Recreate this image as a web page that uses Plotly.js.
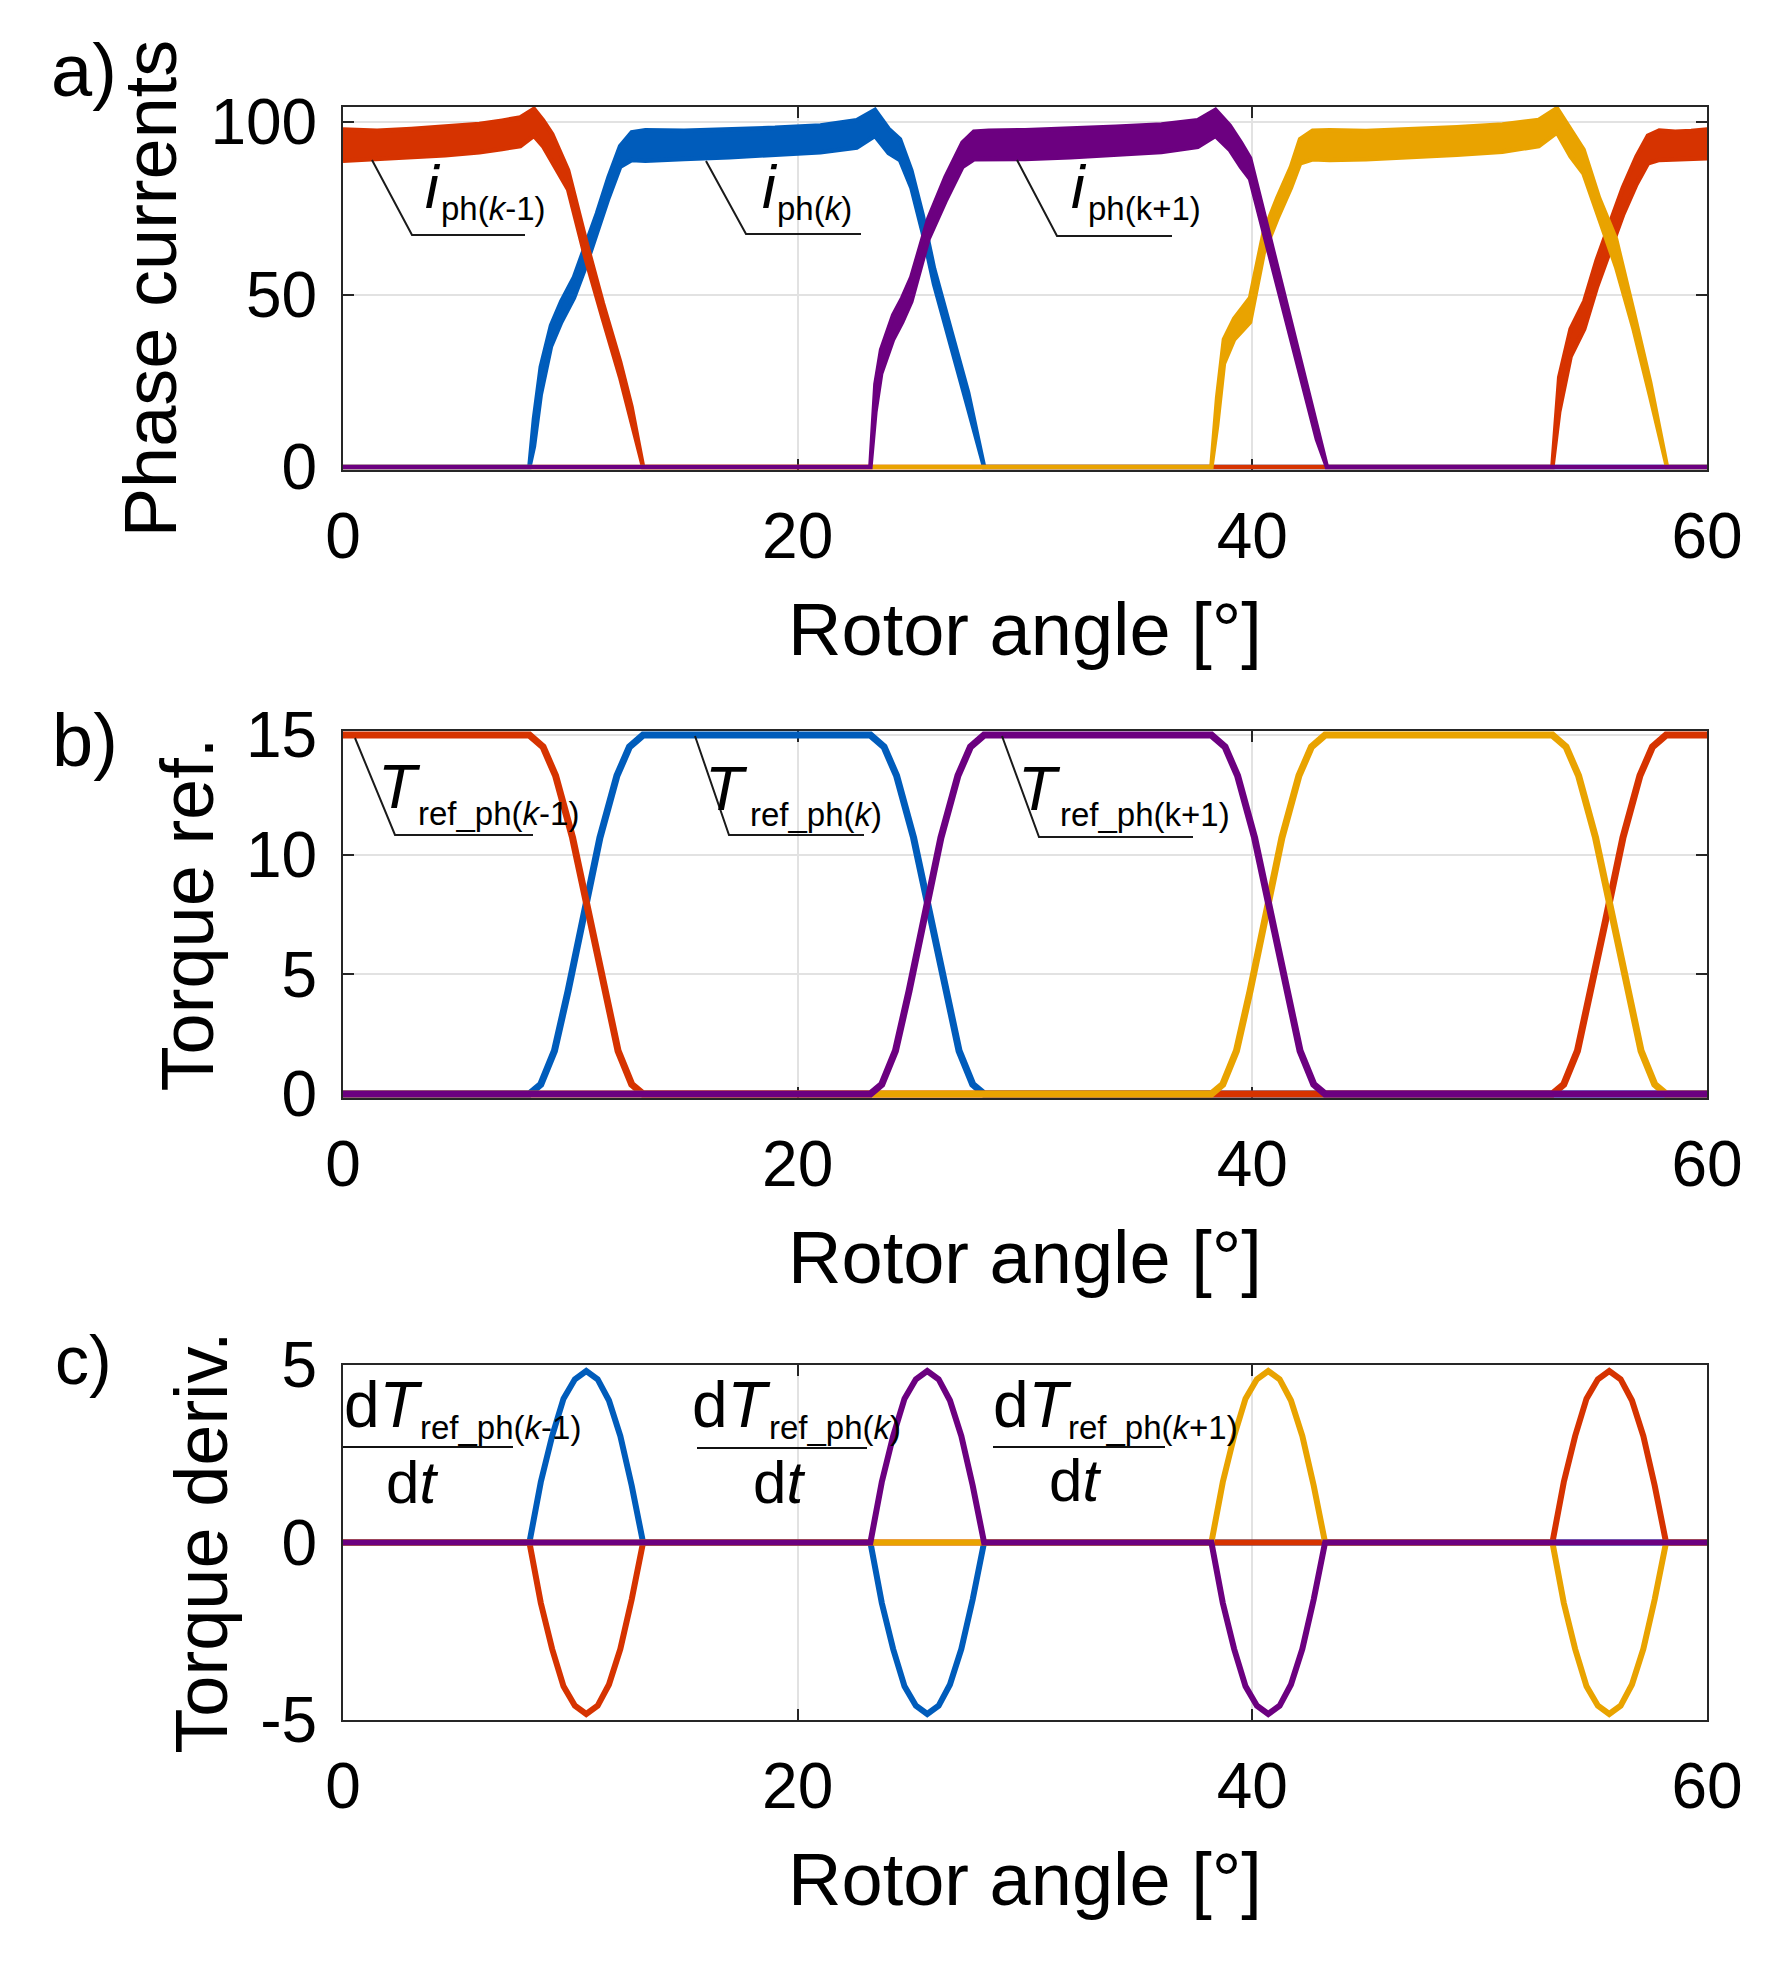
<!DOCTYPE html>
<html>
<head>
<meta charset="utf-8">
<script src="https://cdn.plot.ly/plotly-3.0.1.min.js"></script>
<style>html,body{margin:0;padding:0;background:#fff;}#plot{width:1791px;height:1963px;}</style>
</head>
<body>
<div id="plot"></div>
<script>
// ---------------- DATA ----------------
// Panel a) phase currents: upper / lower edges of the noisy current band
const aAngRed    = [0, 1.5, 3, 4.5, 6, 7, 7.8, 8.4, 8.8, 9.2, 9.9, 10.67, 11.43, 12.19, 12.69, 13.2, 53.2, 53.5, 54.0, 54.6, 55.15, 55.75, 56.3, 56.9, 57.4, 57.9, 58.6, 59.3, 60];
const aHiRed     = [97.8, 97.5, 98.0, 98.6, 99.4, 100.4, 101.3, 103.8, 100.5, 96.5, 86, 66, 47.5, 30.5, 17.5, 0, 0, 26, 40, 48, 60, 71, 81, 90, 96, 97.5, 97.2, 97.4, 97.8];
const aLoRed     = [88.8, 89.4, 89.8, 90.4, 91.2, 92.2, 93.0, 96.0, 93.0, 88.5, 80.5, 60.5, 43, 26, 13, 0, 0, 16, 32, 40, 52, 63, 73, 82, 88, 89, 89, 89.3, 89.5];

const aAngBlue   = [0, 8.2, 8.4, 8.7, 9.15, 9.6, 10.16, 10.67, 11.17, 11.68, 12.19, 12.7, 13.3, 15, 17, 19, 21, 22.6, 23.4, 24.0, 24.5, 25.0, 25.5, 26.0, 26.75, 27.5, 28.2, 60];
const aHiBlue    = [0, 0, 14, 29, 41, 48, 55, 64, 73.5, 84, 93, 97, 97.6, 97.5, 97.8, 98.3, 99, 100.5, 103.5, 98, 95, 86, 73, 57.5, 39.5, 21.5, 0, 0];
const aLoBlue    = [0, 0, 6, 21, 35, 42, 49, 58, 67.5, 78, 87, 89, 88.8, 89.3, 89.8, 90.4, 91.2, 92.6, 96, 91, 89, 81, 68, 53, 35, 17, 0, 0];

const aAngPurple = [0, 23.2, 23.42, 23.67, 24.2, 24.6, 25.0, 25.4, 25.75, 26.5, 27.25, 27.75, 28.4, 30, 32, 34, 36, 37.6, 38.38, 39.0, 39.5, 39.9, 40.64, 41.37, 42.1, 42.84, 43.28, 60];
const aHiPurple  = [0, 0, 24, 34, 44, 49, 55, 64, 72, 84, 94, 97.2, 97.5, 97.6, 98, 98.6, 99.3, 100.5, 103.5, 99, 94, 89.5, 70, 50.5, 31, 11.5, 0, 0];
const aLoPurple  = [0, 0, 16, 27, 37, 42, 48, 57, 66, 77, 87, 89.2, 89, 89.3, 89.8, 90.5, 91.3, 92.8, 96, 92, 87, 83.5, 65, 46, 27, 8, 0, 0];

const aAngYellow = [0, 38.2, 38.45, 38.75, 39.2, 39.9, 40.5, 41.1, 41.7, 42.1, 42.65, 43.4, 45, 47, 49, 51, 52.6, 53.4, 54.0, 54.57, 55.25, 56.0, 56.77, 57.5, 58.24, 60];
const aHiYellow  = [0, 0, 20, 37, 43, 49, 68, 78, 87, 95, 97.5, 97.6, 97.4, 97.9, 98.5, 99.3, 100.6, 104, 98, 92, 78, 66, 45, 24.5, 0, 0];
const aLoYellow  = [0, 0, 12, 30, 37, 42, 62, 72, 81, 88, 89.2, 89, 89.2, 89.8, 90.5, 91.4, 93, 97, 90, 85, 72, 58, 40, 20.5, 0, 0];

// Panel b) torque references
const bAngRed    = [0, 8.2, 8.8, 9.35, 10.1, 10.85, 11.5, 12.1, 12.7, 13.2, 53.2, 53.7, 54.3, 54.9, 55.55, 56.3, 57.05, 57.6, 58.2, 60];
const bTrqRed    = [15, 15, 14.5, 13.3, 10.7, 7.3, 4.3, 1.8, 0.4, 0, 0, 0.4, 1.8, 4.3, 7.3, 10.7, 13.3, 14.5, 15, 15];
const bAngBlue   = [0, 8.2, 8.7, 9.3, 9.9, 10.55, 11.3, 12.05, 12.6, 13.2, 23.2, 23.8, 24.35, 25.1, 25.85, 26.5, 27.1, 27.7, 28.2, 60];
const bTrqBlue   = [0, 0, 0.4, 1.8, 4.3, 7.3, 10.7, 13.3, 14.5, 15, 15, 14.5, 13.3, 10.7, 7.3, 4.3, 1.8, 0.4, 0, 0];
const bAngPurple = [0, 23.2, 23.7, 24.3, 24.9, 25.55, 26.3, 27.05, 27.6, 28.2, 38.2, 38.8, 39.35, 40.1, 40.85, 41.5, 42.1, 42.7, 43.2, 60];
const bTrqPurple = [0, 0, 0.4, 1.8, 4.3, 7.3, 10.7, 13.3, 14.5, 15, 15, 14.5, 13.3, 10.7, 7.3, 4.3, 1.8, 0.4, 0, 0];
const bAngYellow = [0, 38.2, 38.7, 39.3, 39.9, 40.55, 41.3, 42.05, 42.6, 43.2, 53.2, 53.8, 54.35, 55.1, 55.85, 56.5, 57.1, 57.7, 58.2, 60];
const bTrqYellow = [0, 0, 0.4, 1.8, 4.3, 7.3, 10.7, 13.3, 14.5, 15, 15, 14.5, 13.3, 10.7, 7.3, 4.3, 1.8, 0.4, 0, 0];

// Panel c) torque reference derivatives
const cAngRed    = [0, 8.2, 8.7, 9.2, 9.7, 10.2, 10.7, 11.2, 11.7, 12.2, 12.7, 13.2, 53.2, 53.7, 54.2, 54.7, 55.2, 55.7, 56.2, 56.7, 57.2, 57.7, 58.2, 60];
const cDerRed    = [0, 0, -1.7, -3.0, -4.05, -4.6, -4.83, -4.6, -4.0, -3.0, -1.6, 0, 0, 1.7, 3.0, 4.05, 4.6, 4.83, 4.6, 4.0, 3.0, 1.6, 0, 0];
const cAngBlue   = [0, 8.2, 8.7, 9.2, 9.7, 10.2, 10.7, 11.2, 11.7, 12.2, 12.7, 13.2, 23.2, 23.7, 24.2, 24.7, 25.2, 25.7, 26.2, 26.7, 27.2, 27.7, 28.2, 60];
const cDerBlue   = [0, 0, 1.7, 3.0, 4.05, 4.6, 4.83, 4.6, 4.0, 3.0, 1.6, 0, 0, -1.7, -3.0, -4.05, -4.6, -4.83, -4.6, -4.0, -3.0, -1.6, 0, 0];
const cAngPurple = [0, 23.2, 23.7, 24.2, 24.7, 25.2, 25.7, 26.2, 26.7, 27.2, 27.7, 28.2, 38.2, 38.7, 39.2, 39.7, 40.2, 40.7, 41.2, 41.7, 42.2, 42.7, 43.2, 60];
const cDerPurple = [0, 0, 1.7, 3.0, 4.05, 4.6, 4.83, 4.6, 4.0, 3.0, 1.6, 0, 0, -1.7, -3.0, -4.05, -4.6, -4.83, -4.6, -4.0, -3.0, -1.6, 0, 0];
const cAngYellow = [0, 38.2, 38.7, 39.2, 39.7, 40.2, 40.7, 41.2, 41.7, 42.2, 42.7, 43.2, 53.2, 53.7, 54.2, 54.7, 55.2, 55.7, 56.2, 56.7, 57.2, 57.7, 58.2, 60];
const cDerYellow = [0, 0, 1.7, 3.0, 4.05, 4.6, 4.83, 4.6, 4.0, 3.0, 1.6, 0, 0, -1.7, -3.0, -4.05, -4.6, -4.83, -4.6, -4.0, -3.0, -1.6, 0, 0];

const xTicks = [0, 20, 40, 60];
const aTicks = [0, 50, 100];
const bTicks = [0, 5, 10, 15];
const cTicks = [-5, 0, 5];
const cTickText = ['-5', '0', '5'];

// ---------------- STYLE ----------------
const COL = {red: '#D63300', blue: '#005CBB', purple: '#6C0080', yellow: '#E9A300'};
const FONT = "'Liberation Sans', Arial, Helvetica, sans-serif";
const AX = '#262626';

// pixel frame of the subplot area (used only for layout placement)
const W = 1791, H = 1963, PL = 343, PR = 1707, PT = 107, PB = 1720;
const px = v => (v - PL) / (PR - PL);
const py = v => (PB - v) / (PB - PT);

// ---------------- TRACES ----------------
function band(x, hi, lo, color, ax) {
  const xs = x.concat(x.slice().reverse());
  const ys = hi.concat(lo.slice().reverse());
  return {type: 'scatter', mode: 'lines', x: xs, y: ys, fill: 'toself', fillcolor: color,
          line: {color: color, width: 4.5}, xaxis: ax[0], yaxis: ax[1], hoverinfo: 'skip', showlegend: false};
}
function line(x, y, color, w, ax) {
  return {type: 'scatter', mode: 'lines', x: x, y: y, line: {color: color, width: w},
          xaxis: ax[0], yaxis: ax[1], hoverinfo: 'skip', showlegend: false};
}
const A = ['x', 'y'], Bx = ['x2', 'y2'], C = ['x3', 'y3'];
const traces = [
  band(aAngBlue, aHiBlue, aLoBlue, COL.blue, A),
  band(aAngRed, aHiRed, aLoRed, COL.red, A),
  band(aAngYellow, aHiYellow, aLoYellow, COL.yellow, A),
  band(aAngPurple, aHiPurple, aLoPurple, COL.purple, A),
  line(bAngBlue, bTrqBlue, COL.blue, 7, Bx),
  line(bAngRed, bTrqRed, COL.red, 7, Bx),
  line(bAngYellow, bTrqYellow, COL.yellow, 7, Bx),
  line(bAngPurple, bTrqPurple, COL.purple, 7, Bx),
  line(cAngBlue, cDerBlue, COL.blue, 6, C),
  line(cAngRed, cDerRed, COL.red, 6, C),
  line(cAngYellow, cDerYellow, COL.yellow, 6, C),
  line(cAngPurple, cDerPurple, COL.purple, 6, C)
];

// ---------------- AXES ----------------
function xAxis(anchor) {
  return {domain: [0, 1], anchor: anchor, range: [0, 60], tickvals: xTicks,
    ticks: 'inside', ticklen: 11, tickwidth: 2, tickcolor: AX,
    showline: true, linecolor: AX, linewidth: 2, mirror: 'ticks',
    showgrid: true, gridcolor: '#e2e2e2', gridwidth: 2, zeroline: false, layer: 'below traces',
    tickfont: {family: FONT, size: 64, color: '#000'}, ticklabelstandoff: 9,
    title: {text: 'Rotor angle [°]', font: {family: FONT, size: 74, color: '#000'}, standoff: 32},
    automargin: false, fixedrange: true};
}
function yAxis(anchor, domain, range, ticks, ticktext, title, standoff) {
  return {domain: domain, anchor: anchor, range: range, tickvals: ticks, ticktext: ticktext,
    ticks: 'inside', ticklen: 11, tickwidth: 2, tickcolor: AX,
    showline: true, linecolor: AX, linewidth: 2, mirror: 'ticks',
    showgrid: true, gridcolor: '#e2e2e2', gridwidth: 2, zeroline: false, layer: 'below traces',
    tickfont: {family: FONT, size: 64, color: '#000'}, ticklabelstandoff: 11,
    title: {text: title, font: {family: FONT, size: 74, color: '#000'}, standoff: standoff},
    automargin: false, fixedrange: true};
}

// ---------------- ANNOTATIONS ----------------
// centre of text box from baseline: baseline - 0.3465*size (Liberation Sans metrics)
function txt(text, left, base, size) {
  return {xref: 'paper', yref: 'paper', x: px(left), y: py(base - 0.3465 * size),
    xanchor: 'left', yanchor: 'middle', showarrow: false, text: text,
    font: {family: FONT, size: size, color: '#000'}, borderpad: 0};
}
const SUB = 33;
const annotations = [
  txt('a)', 50, 96, 74), txt('b)', 51, 766, 74), txt('c)', 54, 1384, 68),
  // panel a labels
  txt('<i>i</i>', 424, 208, 62), txt('ph(<i>k</i>-1)', 440, 220, SUB),
  txt('<i>i</i>', 761, 208, 62), txt('ph(<i>k</i>)', 776, 220, SUB),
  txt('<i>i</i>', 1070, 208, 62), txt('ph(k+1)', 1087, 220, SUB),
  // panel b labels
  txt('<i>T</i>', 377, 808, 63), txt('ref_ph(<i>k</i>-1)', 417, 825, SUB),
  txt('<i>T</i>', 704, 810, 63), txt('ref_ph(<i>k</i>)', 749, 826, SUB),
  txt('<i>T</i>', 1017, 810, 63), txt('ref_ph(k+1)', 1059, 826, SUB),
  // panel c labels (fractions)
  txt('d<i>T</i>', 343, 1427, 64), txt('ref_ph(<i>k</i>-1)', 419, 1439, SUB), txt('d<i>t</i>', 385, 1503, 60),
  txt('d<i>T</i>', 691, 1427, 64), txt('ref_ph(<i>k</i>)', 768, 1439, SUB), txt('d<i>t</i>', 752, 1503, 60),
  txt('d<i>T</i>', 992, 1427, 64), txt('ref_ph(<i>k</i>+1)', 1067, 1439, SUB), txt('d<i>t</i>', 1048, 1501, 60)
];

function leader(p) {
  const d = 'M ' + p.map(q => px(q[0]) + ',' + py(q[1])).join(' L ');
  return {type: 'path', xref: 'paper', yref: 'paper', path: d, line: {color: '#1a1a1a', width: 2}};
}
function bar(x0, x1, y) {
  return {type: 'line', xref: 'paper', yref: 'paper', x0: px(x0), x1: px(x1), y0: py(y), y1: py(y),
    line: {color: '#111', width: 2}};
}
const shapes = [
  leader([[372, 160], [412, 235], [525, 235]]),
  leader([[706, 161], [746, 234], [861, 234]]),
  leader([[1017, 160], [1057, 236], [1172, 236]]),
  leader([[355, 738], [395, 835], [533, 835]]),
  leader([[695, 736], [729, 835], [864, 835]]),
  leader([[1002, 736], [1039, 837], [1193, 837]]),
  bar(343, 513, 1447), bar(697, 867, 1448), bar(993, 1165, 1447)
];

const layout = {
  width: W, height: H,
  margin: {l: PL, r: W - PR, t: PT, b: H - PB, pad: 0},
  paper_bgcolor: '#fff', plot_bgcolor: '#fff',
  font: {family: FONT, color: '#000'},
  showlegend: false,
  xaxis: xAxis('y'), xaxis2: xAxis('y2'), xaxis3: xAxis('y3'),
  yaxis: yAxis('x', [py(470), 1], [-0.87, 104.35], aTicks, null, 'Phase currents', 10),
  yaxis2: yAxis('x2', [py(1098), py(731)], [-0.167, 15.167], bTicks, null, 'Torque ref.', 8),
  yaxis3: yAxis('x3', [0, py(1365)], [-5, 5], cTicks, cTickText, 'Torque deriv.', 8),
  annotations: annotations, shapes: shapes
};

Plotly.newPlot('plot', traces, layout, {staticPlot: true, displayModeBar: false});
</script>
</body>
</html>
